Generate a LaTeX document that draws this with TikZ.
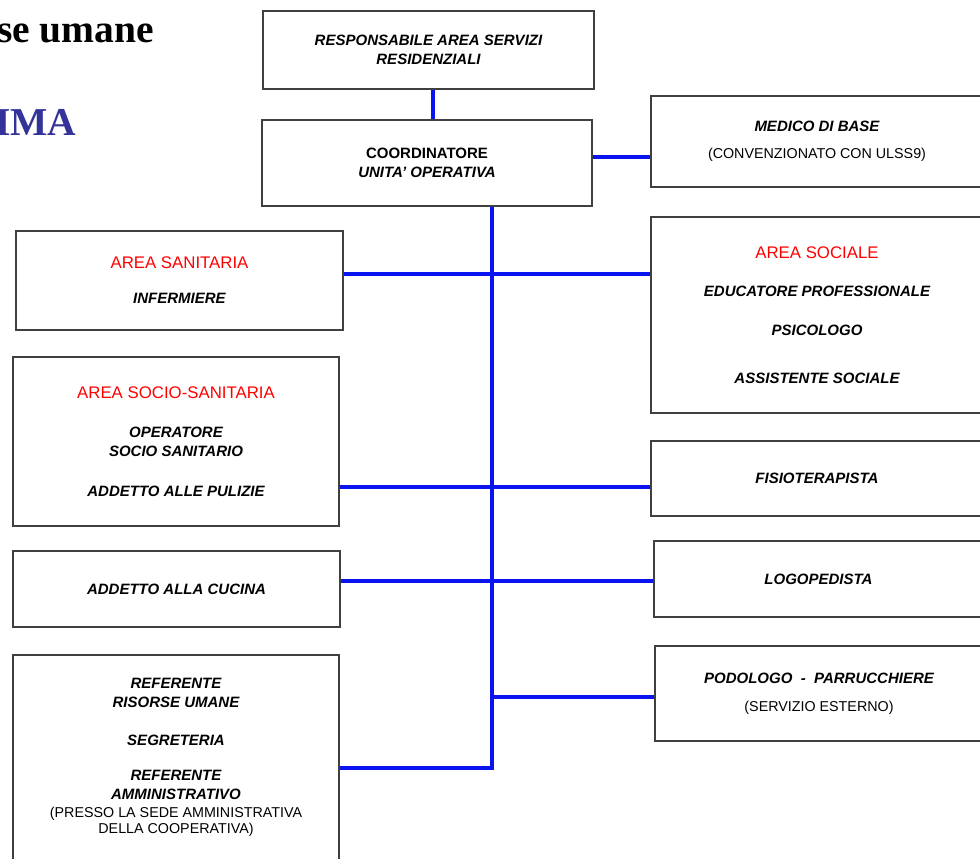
\documentclass[tikz,border=0pt]{standalone}
\usepackage{fontspec}
\setmainfont{Liberation Sans}
\newfontfamily\headfont{Liberation Serif}
\usepackage{tikz}
\usetikzlibrary{calc,positioning}
\definecolor{linkblue}{RGB}{10,20,240}
\definecolor{headblue}{RGB}{51,51,153}
\tikzstyle{box}=[rectangle, draw=black!75, line width=1.4pt, fill=white, align=center, inner sep=0pt, font=\fontsize{15}{19}\selectfont\bfseries\itshape]
\tikzstyle{link}=[draw=linkblue, line width=3.4pt]
\tikzstyle{head}=[anchor=base west, inner sep=0pt, font=\headfont\fontsize{39.5}{42}\selectfont\bfseries]
\newcommand{\areatit}[1]{{\color{red}\mdseries\upshape\fontsize{16.8}{19}\selectfont #1}}
\newcommand{\nota}[1]{{\mdseries\upshape\fontsize{14.3}{19}\selectfont #1}}

\begin{document}
\begin{tikzpicture}[x=1pt,y=-1pt]
        \useasboundingbox (0,0) rectangle (980,859);
        \clip (0,0) rectangle (980,859);
        % intestazione tagliata
        \node[head] (tit) at (-3,43) {se umane};
        \node[head, text=headblue] (sch) at (-5,135) {IMA};
        % colonna centrale
        \node[box, minimum width=331, minimum height=78] (resp) at (428.5,50) {RESPONSABILE AREA SERVIZI\\RESIDENZIALI};
        \node[box, minimum width=330, minimum height=86] (coord) at (427,163) {{\upshape COORDINATORE}\\UNITA' OPERATIVA};
        % lato destro
        \node[box, minimum width=332, minimum height=91] (medico) at (817,141.5) {MEDICO DI BASE\\[8pt]\nota{(CONVENZIONATO CON ULSS9)}};
        \node[box, minimum width=332, minimum height=196] (soc) at (817,315) {\areatit{AREA SOCIALE}\\[19pt]EDUCATORE PROFESSIONALE\\[20pt]PSICOLOGO\\[29pt]ASSISTENTE SOCIALE};
        \node[box, minimum width=332, minimum height=75] (fisio) at (817,478.5) {FISIOTERAPISTA};
        \node[box, minimum width=329, minimum height=76] (logo) at (818.5,579) {LOGOPEDISTA};
        \node[box, minimum width=328, minimum height=95] (podo) at (819,693.5) {PODOLOGO\ \ -\ \ PARRUCCHIERE\\[9pt]\nota{(SERVIZIO ESTERNO)}};
        % lato sinistro
        \node[box, minimum width=327, minimum height=99] (san) at (179.5,280.5) {\areatit{AREA SANITARIA}\\[16pt]INFERMIERE};
        \node[box, minimum width=326, minimum height=169] (socsan) at (176,441.5) {\areatit{AREA SOCIO-SANITARIA}\\[20pt]OPERATORE\\SOCIO SANITARIO\\[21pt]ADDETTO ALLE PULIZIE};
        \node[box, minimum width=327, minimum height=76] (cucina) at (176.5,589) {ADDETTO ALLA CUCINA};
        \node[box, minimum width=326, minimum height=205] (ref) at (176,757.5) {REFERENTE\\RISORSE UMANE\\[19pt]SEGRETERIA\\[16pt]REFERENTE\\AMMINISTRATIVO\\[-1pt]\nota{(PRESSO LA SEDE AMMINISTRATIVA}\\[-3pt]\nota{DELLA COOPERATIVA)}};
        % collegamenti
        \coordinate (R) at (433,100);
        \coordinate (M) at (620,157);
        \coordinate (T1) at (492,274);
        \coordinate (T2) at (492,487);
        \coordinate (T3) at (492,581);
        \coordinate (T4) at (492,697);
        \coordinate (T5) at (492,768);
        \draw[link] (resp.south -| R) -- (coord.north -| R);
        \draw[link] (coord.east |- M) -- (medico.west |- M);
        \draw[link] (coord.south -| T5) -- (T5) -- (ref.east |- T5);
        \draw[link] (san.east |- T1) -- (soc.west |- T1);
        \draw[link] (socsan.east |- T2) -- (fisio.west |- T2);
        \draw[link] (cucina.east |- T3) -- (logo.west |- T3);
        \draw[link] (T4) -- (podo.west |- T4);
\end{tikzpicture}
\end{document}
